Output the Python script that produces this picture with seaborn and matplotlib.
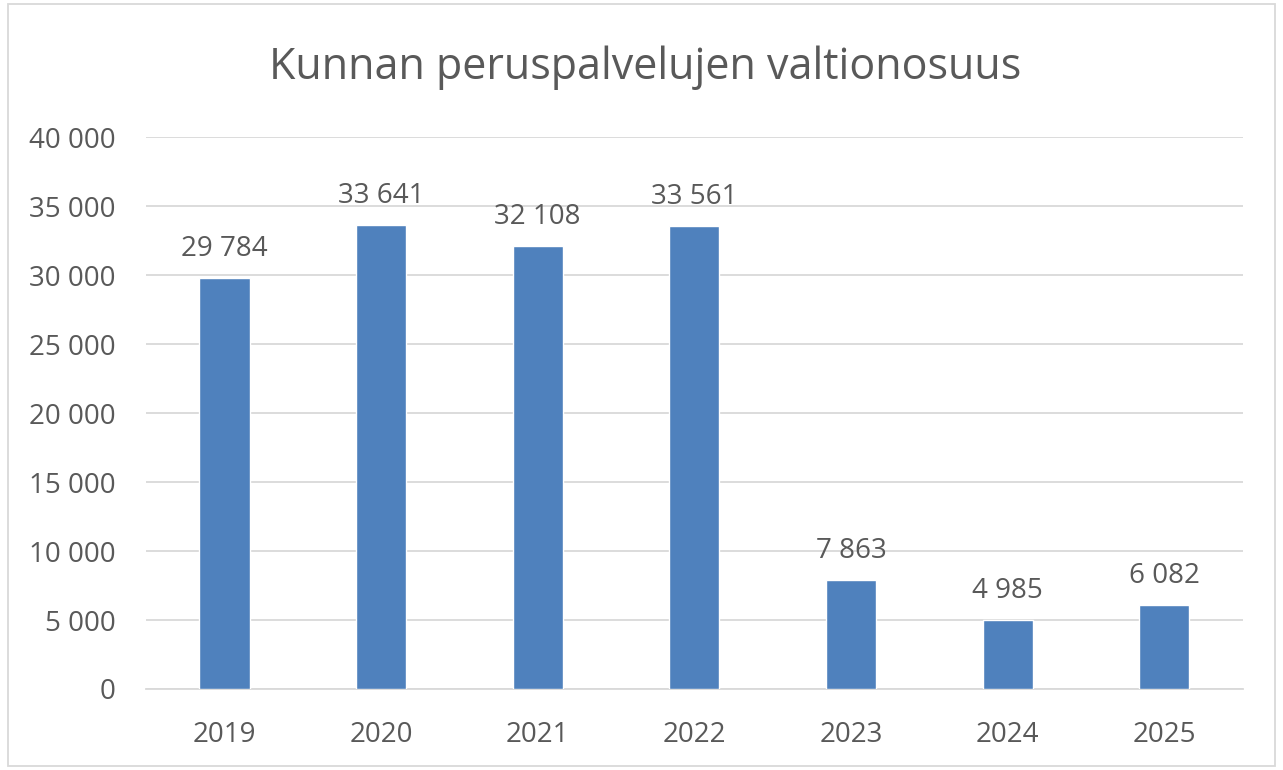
import matplotlib
matplotlib.use("Agg")
import matplotlib.pyplot as plt
import seaborn as sns
import pandas as pd
from matplotlib.patches import Rectangle

years = ["2019", "2020", "2021", "2022", "2023", "2024", "2025"]
values = [29784, 33641, 32108, 33561, 7863, 4985, 6082]
yticks = [0, 5000, 10000, 15000, 20000, 25000, 30000, 35000, 40000]
title = "Kunnan peruspalvelujen valtionosuus"

def fmt(v):
    return f"{v:,}".replace(",", "\u00a0")

sns.set_theme(style="white")
plt.rcParams['font.family'] = ['Open Sans', 'DejaVu Sans']

df = pd.DataFrame({"year": years, "value": values})
text_color = "#595959"

fig = plt.figure(figsize=(12.83, 7.7), dpi=100)
fig.patch.set_facecolor("white")
ax = fig.add_axes([0.1139, 0.1052, 0.8546, 0.7168])

sns.barplot(data=df, x="year", y="value", color="#4F81BD", saturation=1,
            width=0.32, ax=ax, zorder=3)

ax.set_ylim(0, 40000)
ax.set_yticks(yticks)
ax.set_yticklabels([fmt(v) for v in yticks])
ax.yaxis.grid(True, color="#D9D9D9", linewidth=1.3, zorder=0)
ax.set_axisbelow(True)
for s in ["top", "right", "left"]:
    ax.spines[s].set_visible(False)
ax.spines["bottom"].set_color("#D9D9D9")
ax.spines["bottom"].set_linewidth(1.3)
ax.tick_params(axis="both", length=0, labelsize=20, colors=text_color)
ax.tick_params(axis="x", pad=23)
ax.tick_params(axis="y", pad=22)
ax.set_xlabel("")
ax.set_ylabel("")

for p, v in zip(ax.patches, values):
    ax.annotate(fmt(v), (p.get_x() + p.get_width() / 2, p.get_height()),
                xytext=(0, 11), textcoords="offset points", ha="center",
                va="bottom", fontsize=20, color=text_color)

fig.text(0.503, 0.912, title, ha="center", va="center", fontsize=31, color=text_color)

fig.patches.append(Rectangle((0.006, 0.005), 0.988, 0.99, transform=fig.transFigure,
                             fill=False, edgecolor="#D9D9D9", linewidth=1.3))

fig.savefig("out.png", dpi=100)
